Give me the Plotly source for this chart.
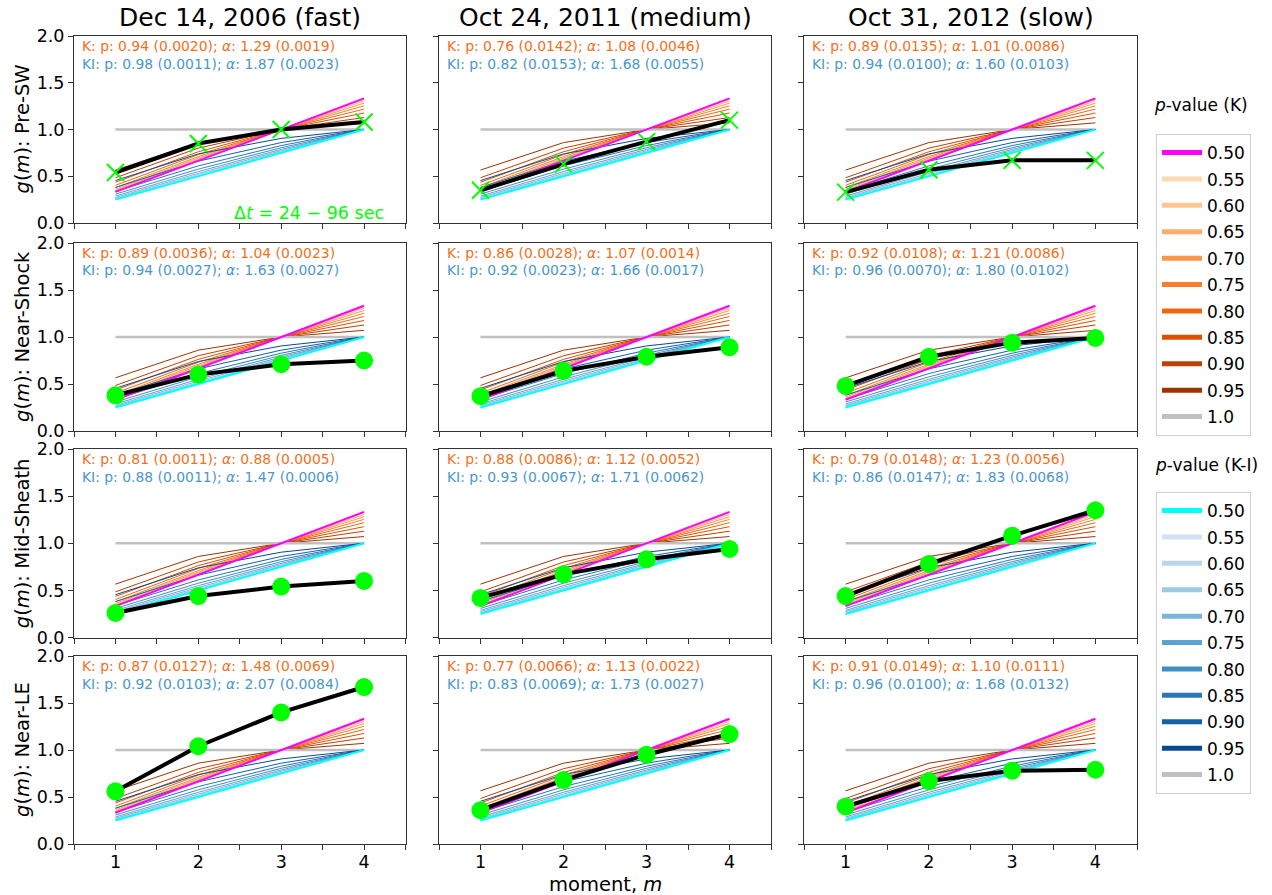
import plotly.graph_objects as go

# ---------------- data ----------------
M = [1, 2, 3, 4]

P_LABELS = ["0.50", "0.55", "0.60", "0.65", "0.70", "0.75",
            "0.80", "0.85", "0.90", "0.95", "1.0"]

# p-model scaling exponents g(m), K (Kolmogorov) family
K_CURVES = [
    [0.333, 0.667, 1.000, 1.333],
    [0.335, 0.668, 1.000, 1.330],
    [0.340, 0.673, 1.000, 1.321],
    [0.348, 0.682, 1.000, 1.305],
    [0.361, 0.694, 1.000, 1.282],
    [0.378, 0.710, 1.000, 1.253],
    [0.403, 0.732, 1.000, 1.218],
    [0.436, 0.762, 1.000, 1.176],
    [0.484, 0.801, 1.000, 1.128],
    [0.566, 0.860, 1.000, 1.071],
    [1.000, 1.000, 1.000, 1.000],
]
# K-I (Kraichnan-Iroshnikov) family
KI_CURVES = [
    [0.250, 0.500, 0.750, 1.000],
    [0.251, 0.502, 0.751, 1.000],
    [0.256, 0.507, 0.756, 1.000],
    [0.263, 0.517, 0.762, 1.000],
    [0.273, 0.531, 0.773, 1.000],
    [0.288, 0.550, 0.787, 1.000],
    [0.309, 0.576, 0.805, 1.000],
    [0.338, 0.611, 0.828, 1.000],
    [0.381, 0.661, 0.860, 1.000],
    [0.454, 0.739, 0.905, 1.000],
    [1.000, 1.000, 1.000, 1.000],
]

COL_TITLES = ["Dec 14, 2006 (fast)", "Oct 24, 2011 (medium)", "Oct 31, 2012 (slow)"]
ROW_NAMES = ["Pre-SW", "Near-Shock", "Mid-Sheath", "Near-LE"]

# observed g(m), one list per event (columns)
G_PRE_SW = [[0.54, 0.85, 1.00, 1.08], [0.35, 0.63, 0.87, 1.10], [0.33, 0.57, 0.67, 0.67]]
G_NEAR_SHOCK = [[0.38, 0.60, 0.71, 0.75], [0.37, 0.64, 0.79, 0.89], [0.48, 0.79, 0.94, 0.99]]
G_MID_SHEATH = [[0.26, 0.44, 0.54, 0.60], [0.42, 0.67, 0.83, 0.94], [0.44, 0.78, 1.08, 1.35]]
G_NEAR_LE = [[0.56, 1.04, 1.40, 1.67], [0.36, 0.68, 0.95, 1.17], [0.40, 0.67, 0.78, 0.79]]
G_ROWS = [G_PRE_SW, G_NEAR_SHOCK, G_MID_SHEATH, G_NEAR_LE]

# fit results: (p, p_err, alpha, alpha_err)
K_FIT = [
    [(0.94, 0.0020, 1.29, 0.0019), (0.76, 0.0142, 1.08, 0.0046), (0.89, 0.0135, 1.01, 0.0086)],
    [(0.89, 0.0036, 1.04, 0.0023), (0.86, 0.0028, 1.07, 0.0014), (0.92, 0.0108, 1.21, 0.0086)],
    [(0.81, 0.0011, 0.88, 0.0005), (0.88, 0.0086, 1.12, 0.0052), (0.79, 0.0148, 1.23, 0.0056)],
    [(0.87, 0.0127, 1.48, 0.0069), (0.77, 0.0066, 1.13, 0.0022), (0.91, 0.0149, 1.10, 0.0111)],
]
KI_FIT = [
    [(0.98, 0.0011, 1.87, 0.0023), (0.82, 0.0153, 1.68, 0.0055), (0.94, 0.0100, 1.60, 0.0103)],
    [(0.94, 0.0027, 1.63, 0.0027), (0.92, 0.0023, 1.66, 0.0017), (0.96, 0.0070, 1.80, 0.0102)],
    [(0.88, 0.0011, 1.47, 0.0006), (0.93, 0.0067, 1.71, 0.0062), (0.86, 0.0147, 1.83, 0.0068)],
    [(0.92, 0.0103, 2.07, 0.0084), (0.83, 0.0069, 1.73, 0.0027), (0.96, 0.0100, 1.68, 0.0132)],
]

# ---------------- styling ----------------
FONT = "DejaVu Sans"
W, H = 1272, 895


def PX(x):
    return x / W


def PY(y):
    return 1 - y / H


ORANGES = ["#fff5eb", "#fee6ce", "#fdd0a2", "#fdae6b", "#fd8d3c",
           "#f16913", "#d94801", "#a63603", "#7f2704"]
BLUES = ["#f7fbff", "#deebf7", "#c6dbef", "#9ecae1", "#6baed6",
         "#4292c6", "#2171b5", "#08519c", "#08306b"]


def cmap(stops, t):
    n = len(stops) - 1
    pos = t * n
    i = min(int(pos), n - 1)
    f = pos - i
    a = stops[i].lstrip("#")
    b = stops[i + 1].lstrip("#")
    ca = [int(a[k:k + 2], 16) for k in (0, 2, 4)]
    cb = [int(b[k:k + 2], 16) for k in (0, 2, 4)]
    c = [round(ca[k] + (cb[k] - ca[k]) * f) for k in range(3)]
    return "rgb(%d,%d,%d)" % tuple(c)


NMID = 9
K_COLORS = ["#ff00ff"] + [cmap(ORANGES, 0.2 + 0.7 * i / (NMID - 1)) for i in range(NMID)] + ["#c0c0c0"]
KI_COLORS = ["#00ffff"] + [cmap(BLUES, 0.2 + 0.7 * i / (NMID - 1)) for i in range(NMID)] + ["#c0c0c0"]
K_TEXT = cmap(ORANGES, 0.6)
KI_TEXT = cmap(BLUES, 0.6)
LIME = "#00ff00"
AX = "#333333"

COL_PX = [(74, 405.5), (439, 771), (804, 1137)]
ROW_PX = [(36, 223), (243, 431), (449, 637.5), (656, 844)]
XD = [(PX(a), PX(b)) for (a, b) in COL_PX]
YD = [(PY(b), PY(t)) for (t, b) in ROW_PX]

fig = go.Figure()
annotations = []
layout = {}

XTICKS = [0.5, 1, 1.5, 2, 2.5, 3, 3.5, 4, 4.5]
XTEXT = ["", "1", "", "2", "", "3", "", "4", ""]

idx = 0
for r in range(4):
    for c in range(3):
        idx += 1
        xa = "x" if idx == 1 else "x%d" % idx
        ya = "y" if idx == 1 else "y%d" % idx
        xname = "xaxis" if idx == 1 else "xaxis%d" % idx
        yname = "yaxis" if idx == 1 else "yaxis%d" % idx
        layout[xname] = dict(
            domain=list(XD[c]), anchor=ya, range=[0.5, 4.5], automargin=False,
            tickmode="array", tickvals=XTICKS, ticktext=XTEXT,
            showticklabels=(r == 3), ticks="outside", ticklen=5, tickwidth=1,
            ticklabelstandoff=-3,
            tickcolor=AX, showline=True, linecolor=AX, linewidth=1, mirror=True,
            showgrid=False, zeroline=False,
            tickfont=dict(family=FONT, size=17.5, color="black"),
        )
        layout[yname] = dict(
            domain=list(YD[r]), anchor=xa, range=[0, 2], automargin=False,
            tickmode="array", tickvals=[0, 0.5, 1, 1.5, 2],
            ticktext=["0.0", "0.5", "1.0", "1.5", "2.0"],
            showticklabels=(c == 0), ticks="outside", ticklen=5, tickwidth=1,
            tickcolor=AX, showline=True, linecolor=AX, linewidth=1, mirror=True,
            showgrid=False, zeroline=False,
            tickfont=dict(family=FONT, size=17.5, color="black"),
        )
        # K thin lines (0.55..0.95), gray 1.0
        for j in range(1, 10):
            fig.add_trace(go.Scatter(x=M, y=K_CURVES[j], mode="lines", xaxis=xa, yaxis=ya,
                                     line=dict(color=K_COLORS[j], width=1), showlegend=False,
                                     hoverinfo="skip"))
        fig.add_trace(go.Scatter(x=M, y=K_CURVES[10], mode="lines", xaxis=xa, yaxis=ya,
                                 line=dict(color=K_COLORS[10], width=2.5), showlegend=False,
                                 hoverinfo="skip"))
        for j in range(1, 10):
            fig.add_trace(go.Scatter(x=M, y=KI_CURVES[j], mode="lines", xaxis=xa, yaxis=ya,
                                     line=dict(color=KI_COLORS[j], width=1), showlegend=False,
                                     hoverinfo="skip"))
        fig.add_trace(go.Scatter(x=M, y=K_CURVES[0], mode="lines", xaxis=xa, yaxis=ya,
                                 line=dict(color=K_COLORS[0], width=2), showlegend=False,
                                 hoverinfo="skip"))
        fig.add_trace(go.Scatter(x=M, y=KI_CURVES[0], mode="lines", xaxis=xa, yaxis=ya,
                                 line=dict(color=KI_COLORS[0], width=2), showlegend=False,
                                 hoverinfo="skip"))
        # observed
        if r == 0:
            marker = dict(symbol="x-thin", size=17, color=LIME, line=dict(color=LIME, width=2))
        else:
            marker = dict(symbol="circle", size=18, color=LIME, line=dict(width=0))
        fig.add_trace(go.Scatter(x=M, y=G_ROWS[r][c], mode="lines+markers", xaxis=xa, yaxis=ya,
                                 line=dict(color="black", width=4), marker=marker,
                                 showlegend=False))
        # fit texts
        kp, kpe, ka, kae = K_FIT[r][c]
        ip, ipe, ia, iae = KI_FIT[r][c]
        annotations.append(dict(
            xref="paper", yref="paper", x=PX(COL_PX[c][0] + 6), y=PY(ROW_PX[r][0] + 9.5),
            xanchor="left", yanchor="middle", showarrow=False,
            text="K: p: %.2f (%.4f); <i>α</i>: %.2f (%.4f)" % (kp, kpe, ka, kae),
            font=dict(family=FONT, size=13.9, color=K_TEXT)))
        annotations.append(dict(
            xref="paper", yref="paper", x=PX(COL_PX[c][0] + 6), y=PY(ROW_PX[r][0] + 27.5),
            xanchor="left", yanchor="middle", showarrow=False,
            text="KI: p: %.2f (%.4f); <i>α</i>: %.2f (%.4f)" % (ip, ipe, ia, iae),
            font=dict(family=FONT, size=13.9, color=KI_TEXT)))

# column titles
for c in range(3):
    annotations.append(dict(
        xref="paper", yref="paper", x=PX((COL_PX[c][0] + COL_PX[c][1]) / 2), y=PY(18),
        xanchor="center", yanchor="middle", showarrow=False, text=COL_TITLES[c],
        font=dict(family=FONT, size=25, color="black")))

# row labels
for r in range(4):
    annotations.append(dict(
        xref="paper", yref="paper", x=PX(22), y=PY((ROW_PX[r][0] + ROW_PX[r][1]) / 2),
        xanchor="center", yanchor="middle", showarrow=False, textangle=-90,
        text="<i>g</i>(<i>m</i>): " + ROW_NAMES[r],
        font=dict(family=FONT, size=19.5, color="black")))

# x label
annotations.append(dict(
    xref="paper", yref="paper", x=PX(605), y=PY(884.5),
    xanchor="center", yanchor="middle", showarrow=False, text="moment, <i>m</i>",
    font=dict(family=FONT, size=19.5, color="black")))

# time window note
annotations.append(dict(
    xref="paper", yref="paper", x=PX(386), y=PY(213),
    xanchor="right", yanchor="middle", showarrow=False,
    text="Δ<i>t</i> = 24 − 96 sec",
    font=dict(family=FONT, size=17.5, color=LIME)))

# legend titles
annotations.append(dict(
    xref="paper", yref="paper", x=PX(1201), y=PY(105),
    xanchor="center", yanchor="middle", showarrow=False, text="<i>p</i>-value (K)",
    font=dict(family=FONT, size=17, color="black")))
annotations.append(dict(
    xref="paper", yref="paper", x=PX(1206), y=PY(465),
    xanchor="center", yanchor="middle", showarrow=False, text="<i>p</i>-value (K-I)",
    font=dict(family=FONT, size=17, color="black")))

# legend entries
for j, lab in enumerate(P_LABELS):
    fig.add_trace(go.Scatter(x=[None], y=[None], mode="lines", name=lab,
                             line=dict(color=K_COLORS[j], width=5),
                             legend="legend", legendgroup="k%d" % j, showlegend=True))
for j, lab in enumerate(P_LABELS):
    fig.add_trace(go.Scatter(x=[None], y=[None], mode="lines", name=lab,
                             line=dict(color=KI_COLORS[j], width=5),
                             legend="legend2", legendgroup="ki%d" % j, showlegend=True))

leg_common = dict(xanchor="left", yanchor="top", bordercolor="#d0d0d0", borderwidth=1,
                  bgcolor="white", font=dict(family=FONT, size=17, color="black"),
                  tracegroupgap=1.3, itemwidth=40, itemclick=False, itemdoubleclick=False)

fig.update_layout(
    width=W, height=H,
    margin=dict(l=0, r=0, t=0, b=0),
    paper_bgcolor="white", plot_bgcolor="white",
    font=dict(family=FONT),
    annotations=annotations,
    legend=dict(x=PX(1156), y=PY(134), **leg_common),
    legend2=dict(x=PX(1156), y=PY(492), **leg_common),
    **layout,
)

fig.write_html("out.html",
               config={"displayModeBar": False, "staticPlot": True},
               post_script="document.body.style.margin='0px';document.body.style.overflow='hidden';")
